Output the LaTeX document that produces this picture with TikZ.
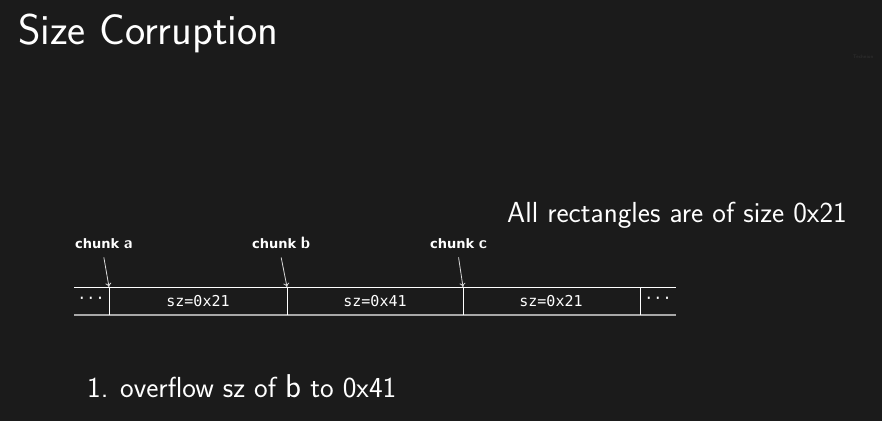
\documentclass[tikz,border=0pt]{standalone}
\usepackage{fontspec}
\usetikzlibrary{arrows.meta}
\setmonofont{DejaVu Sans Mono}
\newfontfamily\chunkfont{DejaVu Sans}
\definecolor{slidebg}{HTML}{1B1B1B}
\definecolor{baseline}{HTML}{A8A8A8}
\definecolor{markgray}{HTML}{333333}
\tikzset{
  heapline/.style={draw=white, line width=1pt},
  cellsz/.style={font=\fontsize{15}{18}\ttfamily, text=white},
  chunklbl/.style={font={\chunkfont\bfseries\fontsize{13}{15}\selectfont}, text=white, inner sep=0pt},
  chunkptr/.style={draw=white!85!black, line width=0.8pt, -{To[length=4pt,width=6pt]}},
  slidetext/.style={anchor=base west, inner sep=0, text=white, font=\fontsize{29}{32}\sffamily},
}
\newcommand\chunkid[1]{{\sffamily\bfseries\fontsize{16.5}{18}\selectfont #1}}
\begin{document}
\begin{tikzpicture}[x=1pt,y=-1pt]
\fill[slidebg] (0,0) rectangle (882,421);
\useasboundingbox (0,0) rectangle (882,421);
% heading and notes
\node[anchor=base west, inner sep=0, text=white, font=\fontsize{43}{50}\sffamily] (title) at (18,44) {Size Corruption};
\node[anchor=base west, inner sep=0, text=markgray, font=\fontsize{5}{6}\sffamily] (mark) at (853,58) {Technion};
\node[slidetext] (note) at (507,222.5) {All rectangles are of size 0x21};
\node[slidetext] (stepnum) at (87,397) {1.};
\node[slidetext] (stepone) at (120,397) {overflow sz of {\fontsize{33}{34}\selectfont b} to 0x41};
% the row of chunks
\coordinate (ptra) at (109,287);
\coordinate (ptrb) at (287,287);
\coordinate (ptrc) at (463,287);
\coordinate (ptrd) at (640,287);
\draw[heapline] (74,287) -- (676,287);
\draw[draw=baseline, line width=1.4pt] (74,315) -- (676,315);
\foreach \p in {ptra,ptrb,ptrc,ptrd}
  \draw[heapline] (\p) -- ++(0,28);
\node[cellsz] (dotsl) at (91,300) {\textperiodcentered\textperiodcentered\textperiodcentered};
\node[cellsz] (sza) at (198,301) {sz=0x21};
\node[cellsz] (szb) at (375,301) {sz=0x41};
\node[cellsz] (szc) at (551,301) {sz=0x21};
\node[cellsz] (dotsr) at (658,300) {\textperiodcentered\textperiodcentered\textperiodcentered};
% chunk pointers
\node[chunklbl, anchor=base west] (cha) at (75,248) {chunk \chunkid{a}};
\node[chunklbl, anchor=base west] (chb) at (252,248) {chunk \chunkid{b}};
\node[chunklbl, anchor=base west] (chc) at (430,248) {chunk \chunkid{c}};
\draw[chunkptr] ([yshift=-9pt]cha.south) -- (ptra);
\draw[chunkptr] ([yshift=-9pt]chb.south) -- (ptrb);
\draw[chunkptr] ([yshift=-9pt]chc.south) -- (ptrc);
\end{tikzpicture}
\end{document}
